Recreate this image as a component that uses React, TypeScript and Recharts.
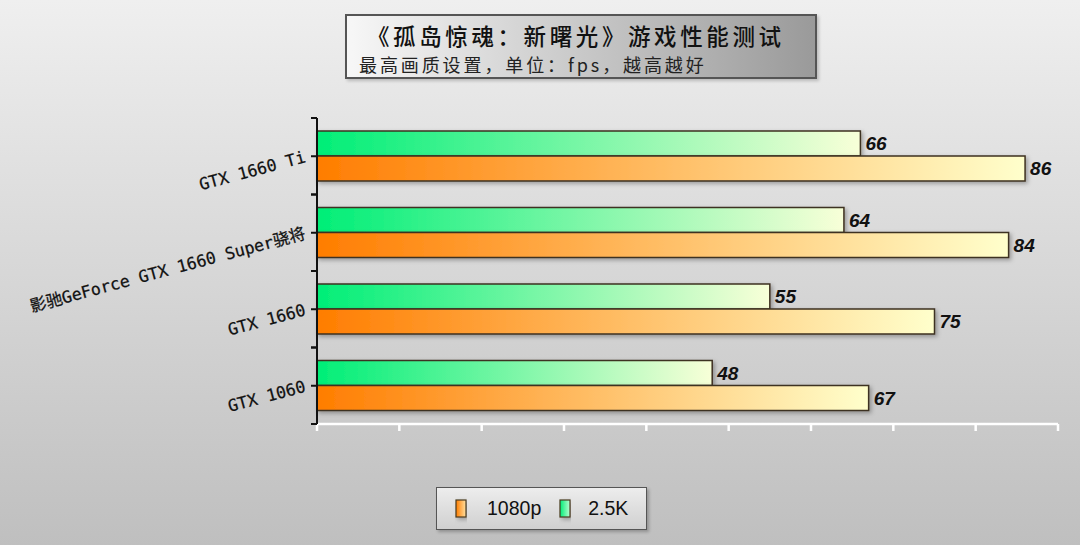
import { BarChart, Bar, XAxis, YAxis, LabelList } from "recharts";

const cards = ["GTX 1660 Ti", "影驰GeForce GTX 1660 Super骁将", "GTX 1660", "GTX 1060"];
const fps1080 = [86, 84, 75, 67];
const fps25k = [66, 64, 55, 48];
const xTicks = [0, 10, 20, 30, 40, 50, 60, 70, 80, 90];
const seriesNames = ["1080p", "2.5K"];
const title = "《孤岛惊魂：新曙光》游戏性能测试";
const subtitle = "最高画质设置，单位：fps，越高越好";

const data = cards.map((name, i) => ({ name, p1080: fps1080[i], p25k: fps25k[i] }));

const BAND = 76.5;

function CardTick(props: any) {
  const { x, y, payload } = props;
  return (
    <g>
      <line x1={x + 2} x2={x + 8} y1={y - BAND / 2} y2={y - BAND / 2} stroke="#111" strokeWidth={2} />
      <line x1={x + 2} x2={x + 8} y1={y + BAND / 2} y2={y + BAND / 2} stroke="#111" strokeWidth={2} />
      <text
        x={x - 4}
        y={y + 6}
        textAnchor="end"
        transform={`rotate(-15 ${x - 4} ${y})`}
        fontSize={16.5}
        fill="#111"
        stroke="#111"
        strokeWidth={0.25}
        fontFamily="'DejaVu Sans Mono', 'Noto Sans CJK SC', monospace"
      >
        {payload.value}
      </text>
    </g>
  );
}

function Swatch({ grad }: { grad: string }) {
  return (
    <svg width={12} height={20} style={{ verticalAlign: "middle", overflow: "visible" }}>
      <rect x={1} y={1} width={10} height={17} fill={`url(#${grad})`} stroke="#4a3a20" strokeWidth={1.2} filter="url(#shadow)" />
    </svg>
  );
}

function LegendBox() {
  return (
    <div
      style={{
        position: "absolute",
        left: 436,
        top: 487,
        width: 211,
        height: 43,
        border: "1px solid #555",
        background: "linear-gradient(#ededed, #d0d0d0)",
        boxShadow: "2px 2px 3px rgba(0,0,0,0.25)",
        display: "flex",
        alignItems: "center",
        fontFamily: "'Liberation Sans', Arial, sans-serif",
        fontSize: 19.5,
        color: "#111",
        boxSizing: "border-box",
        paddingLeft: 18,
      }}
    >
      <Swatch grad="gOrangeV" />
      <span style={{ marginLeft: 20, marginRight: 18 }}>{seriesNames[0]}</span>
      <Swatch grad="gGreenV" />
      <span style={{ marginLeft: 17 }}>{seriesNames[1]}</span>
    </div>
  );
}

export default function App() {
  return (
    <div
      style={{
        position: "relative",
        width: 1080,
        height: 545,
        background: "linear-gradient(#efefef, #bfbfbf)",
        overflow: "hidden",
      }}
    >
      <style>{"body{margin:0}"}</style>
      <div
        style={{
          position: "absolute",
          left: 345,
          top: 14,
          width: 472,
          height: 65,
          boxSizing: "border-box",
          border: "2px solid #555",
          background: "linear-gradient(to right, #f7f7f7, #9a9a9a)",
          boxShadow: "2px 2px 3px rgba(0,0,0,0.2)",
          fontFamily: "'Noto Sans CJK SC', sans-serif",
          color: "#111",
        }}
      >
        <div style={{ position: "absolute", left: 20, top: 3, fontSize: 22.5, fontWeight: 500, letterSpacing: 3.6, lineHeight: "32px", whiteSpace: "nowrap" }}>
          {title}
        </div>
        <div style={{ position: "absolute", left: 12, top: 35, fontSize: 18, letterSpacing: 2.9, lineHeight: "26px", whiteSpace: "nowrap", color: "#222" }}>
          {subtitle}
        </div>
      </div>
      <BarChart
        width={1080}
        height={545}
        data={data}
        layout="vertical"
        margin={{ top: 118, right: 22, bottom: 101, left: 0 }}
        barCategoryGap={13}
        barGap={0}
      >
        <defs>
          <linearGradient id="gOrange" x1="0" y1="0" x2="1" y2="0">
            <stop offset="0" stopColor="#ff7d00" />
            <stop offset="1" stopColor="#ffffcc" />
          </linearGradient>
          <linearGradient id="gGreen" x1="0" y1="0" x2="1" y2="0">
            <stop offset="0" stopColor="#00ee77" />
            <stop offset="1" stopColor="#f8ffd8" />
          </linearGradient>
          <filter id="shadow" x="-10%" y="-30%" width="120%" height="180%">
            <feDropShadow dx="2" dy="2" stdDeviation="2" floodColor="#000" floodOpacity="0.3" />
          </filter>
        </defs>
        <XAxis
          type="number"
          domain={[0, 90]}
          ticks={xTicks}
          height={20}
          tick={() => <g />}
          tickSize={7}
          axisLine={{ stroke: "#fff", strokeWidth: 2.5 }}
          tickLine={{ stroke: "#fff", strokeWidth: 2.5 }}
        />
        <YAxis
          type="category"
          dataKey="name"
          width={317}
          tick={CardTick}
          tickSize={6}
          tickMargin={2}
          axisLine={{ stroke: "#111", strokeWidth: 2 }}
          tickLine={{ stroke: "#111", strokeWidth: 2 }}
        />
        <Bar dataKey="p25k" name={seriesNames[1]} fill="url(#gGreen)" stroke="#3e3020" strokeWidth={1.5} filter="url(#shadow)" isAnimationActive={false}>
          <LabelList dataKey="p25k" position="right" offset={5} fill="#111" fontSize={19} fontWeight="bold" fontStyle="italic" fontFamily="'Liberation Sans', Arial, sans-serif" />
        </Bar>
        <Bar dataKey="p1080" name={seriesNames[0]} fill="url(#gOrange)" stroke="#3e3020" strokeWidth={1.5} filter="url(#shadow)" isAnimationActive={false}>
          <LabelList dataKey="p1080" position="right" offset={5} fill="#111" fontSize={19} fontWeight="bold" fontStyle="italic" fontFamily="'Liberation Sans', Arial, sans-serif" />
        </Bar>
      </BarChart>
      <svg width={0} height={0} style={{ position: "absolute" }}>
        <defs>
          <linearGradient id="gOrangeV" x1="0" y1="0" x2="1" y2="0">
            <stop offset="0" stopColor="#ff7d00" />
            <stop offset="1" stopColor="#ffe0a0" />
          </linearGradient>
          <linearGradient id="gGreenV" x1="0" y1="0" x2="1" y2="0">
            <stop offset="0" stopColor="#00ee77" />
            <stop offset="1" stopColor="#b8ffd0" />
          </linearGradient>
        </defs>
      </svg>
      <LegendBox />
    </div>
  );
}
